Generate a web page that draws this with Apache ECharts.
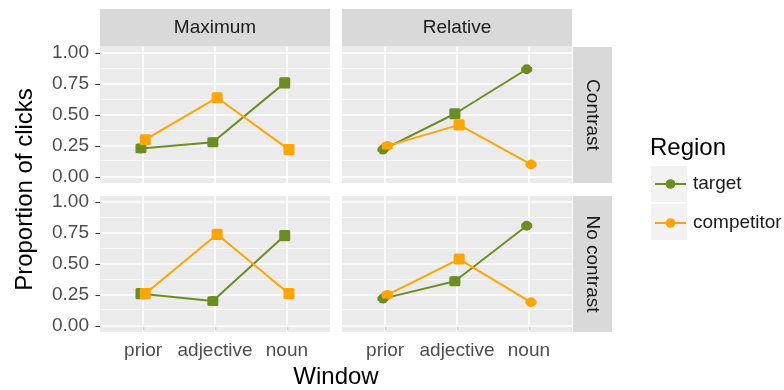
<!DOCTYPE html>
<html>
<head>
<meta charset="utf-8">
<script src="https://cdn.jsdelivr.net/npm/echarts@6/dist/echarts.min.js"></script>
<style>
  html, body { margin: 0; padding: 0; background: #ffffff; }
  #chart { width: 784px; height: 390px; }
</style>
</head>
<body>
<div id="chart"></div>
<script>
// Window categories along the x axis
const windows = ['prior', 'adjective', 'noun'];
const yTicks = [0, 0.25, 0.5, 0.75, 1];
const yMinorTicks = [0.125, 0.375, 0.625, 0.875];

// Proportion of clicks per window (means) and their standard errors
const targetMaxContrast = [0.23, 0.28, 0.76];
const competitorMaxContrast = [0.30, 0.64, 0.22];
const targetRelContrast = [0.22, 0.51, 0.87];
const competitorRelContrast = [0.25, 0.42, 0.10];
const targetMaxNoContrast = [0.26, 0.20, 0.73];
const competitorMaxNoContrast = [0.26, 0.74, 0.26];
const targetRelNoContrast = [0.22, 0.36, 0.81];
const competitorRelNoContrast = [0.25, 0.54, 0.19];

const targetMaxContrastSE = [0.04, 0.04, 0.045];
const competitorMaxContrastSE = [0.045, 0.045, 0.045];
const targetRelContrastSE = [0.02, 0.045, 0.02];
const competitorRelContrastSE = [0.03, 0.045, 0.02];
const targetMaxNoContrastSE = [0.045, 0.04, 0.045];
const competitorMaxNoContrastSE = [0.045, 0.045, 0.045];
const targetRelNoContrastSE = [0.02, 0.04, 0.02];
const competitorRelNoContrastSE = [0.03, 0.045, 0.02];

const colTarget = '#6b8e23';
const colCompetitor = '#ffa500';
const FONT = 'Liberation Sans';
const SMALL = 19;
const LARGE = 24;
const dodge = 0.03;

// Panel geometry (facet grid: columns = Maximum/Relative, rows = Contrast/No contrast)
const colLeft = [100, 342];
const rowTop = [47, 196];
const panelW = 230;
const panelH = 136;
const stripSize = 38;

const panels = [
  { row: 0, col: 0, target: targetMaxContrast, competitor: competitorMaxContrast, tSE: targetMaxContrastSE, cSE: competitorMaxContrastSE },
  { row: 0, col: 1, target: targetRelContrast, competitor: competitorRelContrast, tSE: targetRelContrastSE, cSE: competitorRelContrastSE },
  { row: 1, col: 0, target: targetMaxNoContrast, competitor: competitorMaxNoContrast, tSE: targetMaxNoContrastSE, cSE: competitorMaxNoContrastSE },
  { row: 1, col: 1, target: targetRelNoContrast, competitor: competitorRelNoContrast, tSE: targetRelNoContrastSE, cSE: competitorRelNoContrastSE }
];
const colLabels = ['Maximum', 'Relative'];
const rowLabels = ['Contrast', 'No contrast'];

const grids = [], xAxes = [], yAxes = [], series = [];

panels.forEach((p, i) => {
  grids.push({
    left: colLeft[p.col], top: rowTop[p.row], width: panelW, height: panelH,
    show: true, backgroundColor: '#ebebeb', borderWidth: 0
  });
  const isBottom = p.row === 1;
  const isLeft = p.col === 0;
  xAxes.push({
    gridIndex: i, type: 'value', min: 0.4, max: 3.6,
    axisLine: { show: false },
    splitLine: { show: false },
    axisTick: { show: isBottom, customValues: [1, 2, 3], length: 4.5, lineStyle: { color: '#333333', width: 1.1 } },
    axisLabel: {
      show: isBottom, customValues: [1, 2, 3], margin: 9,
      formatter: v => windows[Math.round(v) - 1],
      color: '#4d4d4d', fontFamily: FONT, fontSize: SMALL
    }
  });
  yAxes.push({
    gridIndex: i, type: 'value', min: -0.05, max: 1.05,
    axisLine: { show: false },
    splitLine: { show: false },
    axisTick: { show: isLeft, customValues: yTicks, length: 4.5, lineStyle: { color: '#333333', width: 1.1 } },
    axisLabel: {
      show: isLeft, customValues: yTicks, margin: 11,
      formatter: v => v.toFixed(2),
      color: '#4d4d4d', fontFamily: FONT, fontSize: SMALL
    }
  });

  // White panel grid lines
  const major = yTicks.map(v => ({ yAxis: v, lineStyle: { width: 1.6 } }))
    .concat([1, 2, 3].map(v => ({ xAxis: v, lineStyle: { width: 1.6 } })));
  const minor = yMinorTicks.map(v => ({ yAxis: v, lineStyle: { width: 0.8 } }));
  series.push({
    type: 'line', xAxisIndex: i, yAxisIndex: i, data: [], z: 1, silent: true,
    markLine: {
      z: 1, silent: true, symbol: 'none', label: { show: false }, animation: false,
      lineStyle: { color: '#ffffff', type: 'solid', opacity: 1 },
      emphasis: { disabled: true },
      data: major.concat(minor)
    }
  });

  const groups = [
    { name: 'target', values: p.target, se: p.tSE, color: colTarget, shift: -dodge },
    { name: 'competitor', values: p.competitor, se: p.cSE, color: colCompetitor, shift: dodge }
  ];
  groups.forEach(g => {
    series.push({
      name: g.name, type: 'line', xAxisIndex: i, yAxisIndex: i, z: 3,
      data: g.values.map((v, k) => [k + 1 + g.shift, v]),
      symbol: 'circle', symbolSize: 10, showSymbol: true,
      lineStyle: { color: g.color, width: 2 },
      itemStyle: { color: g.color },
      emphasis: { disabled: true },
      animation: false
    });
  });
  groups.forEach(g => {
    // error ranges drawn as thick vertical bars
    series.push({
      name: g.name + ' range', type: 'custom', xAxisIndex: i, yAxisIndex: i, z: 4,
      data: g.values.map((v, k) => [k + 1 + g.shift, v - g.se[k], v + g.se[k]]),
      renderItem: (params, api) => {
        const lo = api.coord([api.value(0), api.value(1)]);
        const hi = api.coord([api.value(0), api.value(2)]);
        const w = 11;
        return {
          type: 'rect',
          shape: { x: lo[0] - w / 2, y: hi[1], width: w, height: lo[1] - hi[1], r: 1.5 },
          style: { fill: g.color }
        };
      },
      silent: true, animation: false
    });
  });
});

// Facet strips
const graphics = [];
colLabels.forEach((lab, c) => {
  graphics.push({
    type: 'rect', shape: { x: colLeft[c], y: rowTop[0] - stripSize, width: panelW, height: stripSize - 0.5 },
    style: { fill: '#d9d9d9' }, silent: true
  });
  graphics.push({
    type: 'text', x: colLeft[c] + panelW / 2, y: rowTop[0] - stripSize / 2,
    style: { text: lab, fill: '#1a1a1a', font: SMALL + 'px "' + FONT + '"', align: 'center', verticalAlign: 'middle' },
    silent: true
  });
});
rowLabels.forEach((lab, r) => {
  const sx = colLeft[1] + panelW + 1;
  graphics.push({
    type: 'rect', shape: { x: sx, y: rowTop[r], width: stripSize + 1, height: panelH },
    style: { fill: '#d9d9d9' }, silent: true
  });
  graphics.push({
    type: 'text', x: sx + (stripSize + 1) / 2, y: rowTop[r] + panelH / 2,
    rotation: -Math.PI / 2,
    style: { text: lab, fill: '#1a1a1a', font: SMALL + 'px "' + FONT + '"', align: 'center', verticalAlign: 'middle' },
    silent: true
  });
});
// Axis titles
graphics.push({
  type: 'text', x: 25, y: (rowTop[0] + rowTop[1] + panelH) / 2, rotation: Math.PI / 2,
  style: { text: 'Proportion of clicks', fill: '#000000', font: LARGE + 'px "' + FONT + '"', align: 'center', verticalAlign: 'middle' },
  silent: true
});
graphics.push({
  type: 'text', x: colLeft[0] + (colLeft[1] + panelW - colLeft[0]) / 2, y: 377,
  style: { text: 'Window', fill: '#000000', font: LARGE + 'px "' + FONT + '"', align: 'center', verticalAlign: 'middle' },
  silent: true
});
// Legend title and key backgrounds
graphics.push({
  type: 'text', x: 650, y: 148,
  style: { text: 'Region', fill: '#000000', font: LARGE + 'px "' + FONT + '"', align: 'left', verticalAlign: 'middle' },
  silent: true
});
[166, 204].forEach(y => {
  graphics.push({
    type: 'rect', shape: { x: 651, y: y, width: 36, height: 36 },
    style: { fill: '#f2f2f2' }, silent: true
  });
});

const chart = echarts.init(document.getElementById('chart'), null, { renderer: 'canvas' });
chart.setOption({
  animation: false,
  grid: grids,
  xAxis: xAxes,
  yAxis: yAxes,
  series: series,
  graphic: { elements: graphics },
  legend: {
    data: ['target', 'competitor'],
    orient: 'vertical', left: 654, top: 174.5,
    itemWidth: 31, itemHeight: 12, itemGap: 20,
    selectedMode: false,
    textStyle: { color: '#1a1a1a', fontFamily: FONT, fontSize: SMALL, padding: [0, 0, 0, 2] },
    padding: 0
  }
});
</script>
</body>
</html>
